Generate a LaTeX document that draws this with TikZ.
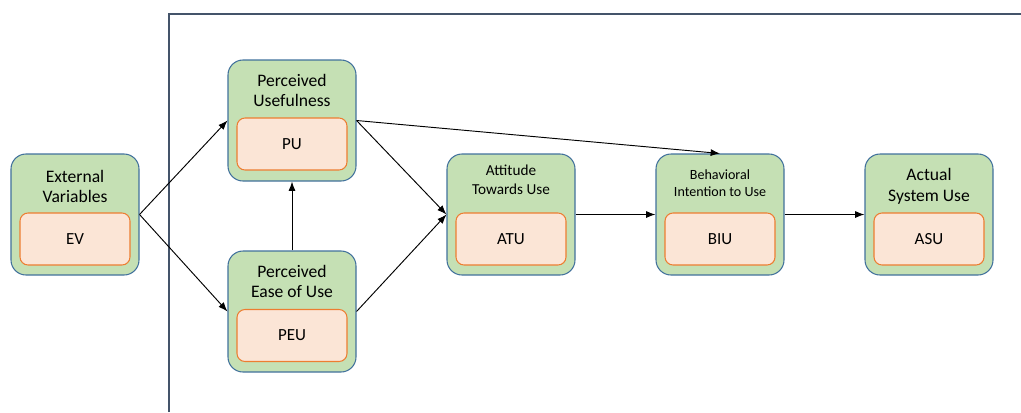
\documentclass[tikz,border=0pt]{standalone}
\usepackage{fontspec}
\setmainfont{Carlito}
\usetikzlibrary{arrows.meta}
\definecolor{boxgreen}{HTML}{C5E0B4}
\definecolor{boxblue}{HTML}{41719C}
\definecolor{innerfill}{HTML}{FBE5D6}
\definecolor{innerline}{HTML}{ED7D31}
\definecolor{framecol}{HTML}{44546A}
\tikzset{
  outerbox/.style={draw=boxblue, fill=boxgreen, line width=0.9pt, rounded corners=0.45cm,
    minimum width=3.84cm, minimum height=3.63cm},
  innerbox/.style={draw=innerline, fill=innerfill, line width=0.9pt, rounded corners=0.24cm,
    minimum width=3.3cm, minimum height=1.56cm, font=\fontsize{14.5}{16}\selectfont},
  title/.style={align=center, font=\fontsize{15}{17.5}\selectfont},
  arr/.style={-{Latex[length=8pt,width=6pt]}, line width=0.8pt},
}
\begin{document}
\begin{tikzpicture}[x=0.03cm, y=-0.03cm]
   \useasboundingbox (0,0) rectangle (1021,412);

   % frame
   \draw[framecol, line width=0.9pt] (169,412) -- (169,14) -- (1021,14);

   % outer boxes
   \node[outerbox] (ev)  at (75,214.5)  {};
   \node[outerbox] (pu)  at (292,120.5) {};
   \node[outerbox] (peu) at (292,311.5) {};
   \node[outerbox] (atu) at (511,214.5) {};
   \node[outerbox] (biu) at (720,214.5) {};
   \node[outerbox] (asu) at (929,214.5) {};

   % titles
   \node[title] (evt)  at (75,186.5)  {External\\Variables};
   \node[title] (put)  at (292,90.5)  {Perceived\\Usefulness};
   \node[title] (peut) at (292,281.5) {Perceived\\Ease of Use};
   \node[title, font=\fontsize{13}{16}\selectfont] (atut) at (511,180) {Attitude\\Towards Use};
   \node[title, font=\fontsize{12}{14.5}\selectfont] (biut) at (720,183.5) {Behavioral\\Intention to Use};
   \node[title] (asut) at (929,186.5) {Actual\\System Use};

   % inner boxes
   \node[innerbox] (evi)  at (75,239)  {EV};
   \node[innerbox] (pui)  at (292,144) {PU};
   \node[innerbox] (peui) at (292,335.5) {PEU};
   \node[innerbox] (atui) at (511,239) {ATU};
   \node[innerbox] (biui) at (720,239) {BIU};
   \node[innerbox] (asui) at (929,239) {ASU};

   % connectors
   \draw[arr] (ev.east) -- (pu.west);
   \draw[arr] (ev.east) -- (peu.west);
   \draw[arr] (peu.north) -- (pu.south);
   \draw[arr] (pu.east) -- (atu.west);
   \draw[arr] (peu.east) -- (atu.west);
   \draw[arr] (pu.east) -- (biu.north);
   \draw[arr] (atu.east) -- (biu.west);
   \draw[arr] (biu.east) -- (asu.west);
\end{tikzpicture}
\end{document}
